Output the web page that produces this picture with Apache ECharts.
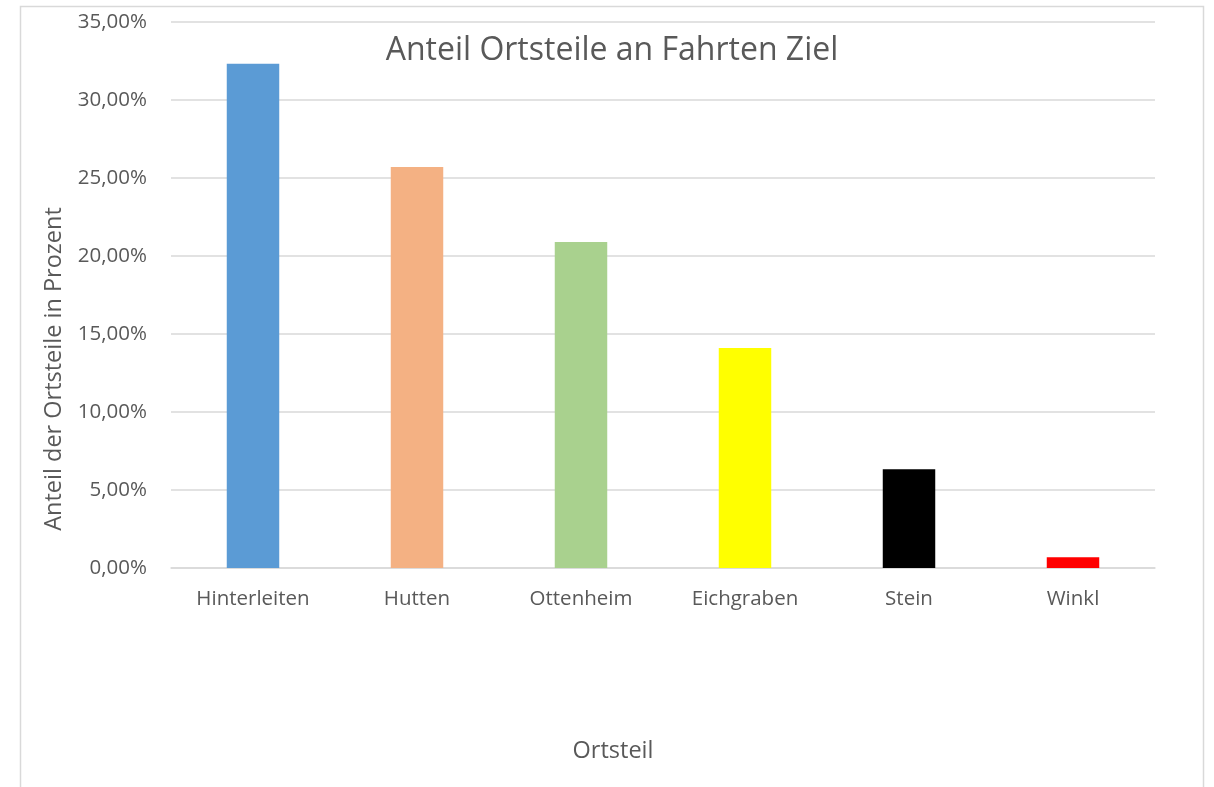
<!DOCTYPE html>
<html>
<head>
<meta charset="utf-8">
<title>Anteil Ortsteile an Fahrten Ziel</title>
<script src="https://cdn.jsdelivr.net/npm/echarts@6/dist/echarts.min.js"></script>
<style>
  html, body { margin: 0; padding: 0; background: #ffffff; }
  #chart { width: 1214px; height: 787px; }
</style>
</head>
<body>
<div id="chart"></div>
<script>
// Ortsteile (districts) and their share of trip destinations, in percent
const categories = ['Hinterleiten', 'Hutten', 'Ottenheim', 'Eichgraben', 'Stein', 'Winkl'];
const shares = [32.32, 25.71, 20.90, 14.10, 6.33, 0.69];
const barColors = ['#5B9BD5', '#F4B183', '#A9D18E', '#FFFF00', '#000000', '#FF0000'];
const yTicks = { min: 0, max: 35, interval: 5 };

const chartTitle = 'Anteil Ortsteile an Fahrten Ziel';
const yTitle = 'Anteil der Ortsteile in Prozent';
const xTitle = 'Ortsteil';

const FONT = '"Open Sans", "Noto Sans", sans-serif';
const TEXT = '#595959';
const GRID = '#D9D9D9';

const chart = echarts.init(document.getElementById('chart'), null, { renderer: 'canvas' });

chart.setOption({
  backgroundColor: '#ffffff',
  animation: false,
  textStyle: { fontFamily: FONT },
  grid: { left: 171, right: 59, top: 22, bottom: 219, containLabel: false },
  xAxis: {
    type: 'category',
    data: categories,
    axisLine: { show: true, lineStyle: { color: GRID, width: 1.5 } },
    axisTick: { show: false },
    axisLabel: { color: TEXT, fontSize: 20.5, fontFamily: FONT, margin: 21 }
  },
  yAxis: {
    type: 'value',
    min: yTicks.min,
    max: yTicks.max,
    interval: yTicks.interval,
    axisLine: { show: false },
    axisTick: { show: false },
    splitLine: { lineStyle: { color: GRID, width: 1.5 } },
    axisLabel: {
      color: TEXT,
      fontSize: 20.5,
      fontFamily: FONT,
      margin: 24,
      formatter: v => v.toFixed(2).replace('.', ',') + '%'
    }
  },
  series: [{
    type: 'bar',
    data: shares.map((v, i) => ({ value: v, itemStyle: { color: barColors[i] } })),
    barCategoryGap: '68%'
  }],
  graphic: [
    {
      type: 'rect',
      z: -1,
      silent: true,
      shape: { x: 20.5, y: 6.5, width: 1183, height: 800 },
      style: { fill: 'none', stroke: GRID, lineWidth: 1.5 }
    },
    {
      type: 'text',
      x: 612, y: 51,
      style: {
        text: chartTitle,
        fill: TEXT,
        font: '32px ' + FONT,
        textAlign: 'center',
        textVerticalAlign: 'middle'
      }
    },
    {
      type: 'text',
      x: 54, y: 369,
      rotation: Math.PI / 2,
      style: {
        text: yTitle,
        fill: TEXT,
        font: '23.5px ' + FONT,
        textAlign: 'center',
        textVerticalAlign: 'middle'
      }
    },
    {
      type: 'text',
      x: 613, y: 751,
      style: {
        text: xTitle,
        fill: TEXT,
        font: '23.5px ' + FONT,
        textAlign: 'center',
        textVerticalAlign: 'middle'
      }
    }
  ]
});
</script>
</body>
</html>
